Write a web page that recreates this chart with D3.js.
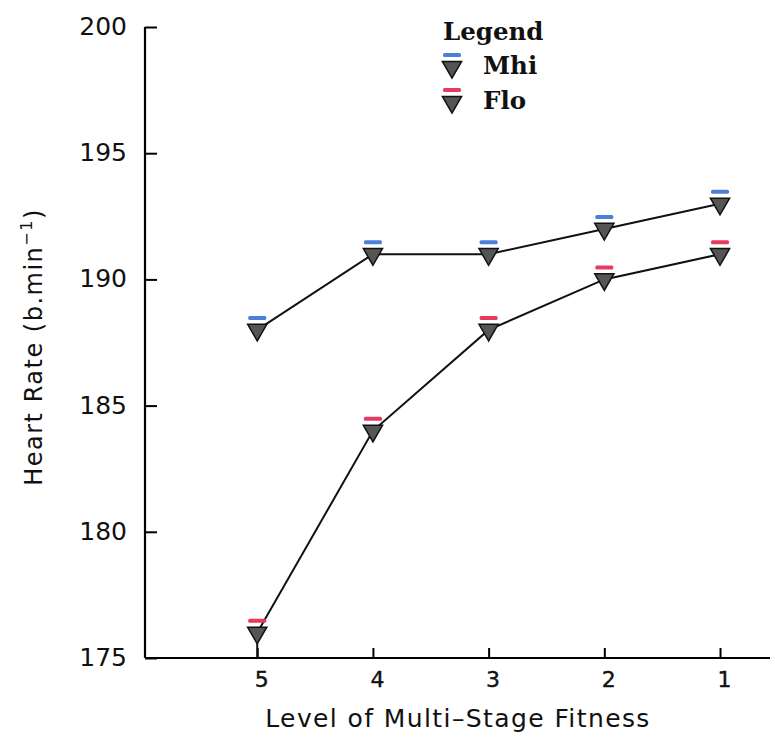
<!DOCTYPE html>
<html>
<head>
<meta charset="utf-8">
<script src="https://cdn.jsdelivr.net/npm/d3@7"></script>
<style>
  body { margin: 0; background: #fff; }
  svg { display: block; }
</style>
</head>
<body>
<script>
// fitness levels, drawn right to left
const levels = [5, 4, 3, 2, 1];
const mhiValues = [188, 191, 191, 192, 193];
const floValues = [176, 184, 188, 190, 191];
const yTicks = [175, 180, 185, 190, 195, 200];
const seriesNames = ["Mhi", "Flo"];
const seriesColors = ["#4b7fd8", "#e63a5e"];

const width = 775;
const height = 740;
const margin = { left: 145, right: 5, top: 27, bottom: 82 };

const svg = d3.select("body").append("svg")
  .attr("width", width)
  .attr("height", height);

const x = d3.scaleLinear()
  .domain([5.97, 0.568])
  .range([margin.left, width - margin.right]);

const y = d3.scaleLinear()
  .domain([175, 200])
  .range([height - margin.bottom, margin.top]);

const axisFont = "'DejaVu Sans', Verdana, sans-serif";

// y axis, ticks pointing inwards
const yAxis = svg.append("g")
  .attr("transform", `translate(${margin.left},0)`)
  .call(d3.axisRight(y).tickValues(yTicks).tickSize(12).tickFormat(d3.format("d")));
yAxis.select(".domain").attr("stroke-width", 2.2).attr("d", `M0,${y(200)}V${y(175)}`);
yAxis.selectAll(".tick line").attr("stroke-width", 2);
yAxis.selectAll(".tick text")
  .attr("x", -18)
  .attr("dy", "0.3em")
  .attr("text-anchor", "end")
  .style("font-family", axisFont)
  .style("font-size", "25px")
  .attr("fill", "#111");

// x axis, ticks pointing up
const xAxis = svg.append("g")
  .attr("transform", `translate(0,${y(175)})`)
  .call(d3.axisTop(x).tickValues(levels).tickSize(10).tickFormat(d3.format("d")));
xAxis.select(".domain").attr("stroke-width", 2.2).attr("d", `M${margin.left},0H${width - margin.right}`);
xAxis.selectAll(".tick line").attr("stroke-width", 2);
xAxis.selectAll(".tick text")
  .attr("x", 4)
  .attr("y", 29)
  .attr("dy", 0)
  .style("font-family", axisFont)
  .style("font-size", "22px")
  .attr("stroke", "#111")
  .attr("stroke-width", 0.4)
  .attr("fill", "#111");

// axis titles
svg.append("text")
  .attr("x", 458)
  .attr("y", 727)
  .attr("text-anchor", "middle")
  .style("font-family", axisFont)
  .style("font-size", "25px")
  .style("letter-spacing", "1.4px")
  .attr("fill", "#111")
  .text("Level of Multi\u2013Stage Fitness");

const yTitle = svg.append("text")
  .attr("transform", "translate(42,347) rotate(-90)")
  .attr("text-anchor", "middle")
  .style("font-family", axisFont)
  .style("font-size", "24px")
  .style("letter-spacing", "1.5px")
  .attr("fill", "#111");
yTitle.append("tspan").text("Heart Rate (b.min");
yTitle.append("tspan").attr("dy", -10).style("font-size", "16px").text("\u22121");
yTitle.append("tspan").attr("dy", 10).text(")");

const series = [mhiValues, floValues];
const tri = d3.symbol().type(d3.symbolTriangle).size(160);

function marker(g, cx, cy, color) {
  g.append("rect")
    .attr("x", cx - 9)
    .attr("y", cy - 14)
    .attr("width", 18)
    .attr("height", 4)
    .attr("rx", 1.5)
    .attr("fill", color);
  g.append("path")
    .attr("d", tri)
    .attr("transform", `translate(${cx},${cy}) rotate(180)`)
    .attr("fill", "#555")
    .attr("stroke", "#111")
    .attr("stroke-width", 1.5);
}

// lowest Flo point has a whisker reaching the axis
svg.append("line")
  .attr("x1", x(levels[0])).attr("x2", x(levels[0]))
  .attr("y1", y(floValues[0])).attr("y2", y(175))
  .attr("stroke", "#111").attr("stroke-width", 2);

const line = d3.line()
  .x((d, i) => x(levels[i]))
  .y(d => y(d));

series.forEach((vals, s) => {
  svg.append("path")
    .datum(vals)
    .attr("d", line)
    .attr("fill", "none")
    .attr("stroke", "#111")
    .attr("stroke-width", 2);
});

series.forEach((vals, s) => {
  const g = svg.append("g");
  vals.forEach((v, i) => marker(g, x(levels[i]), y(v), seriesColors[s]));
});

// legend
const legendFont = "'DejaVu Serif', 'Liberation Serif', serif";
const legend = svg.append("g");
legend.append("text")
  .attr("x", 443).attr("y", 40)
  .style("font-family", legendFont)
  .style("font-size", "24.5px")
  .style("font-weight", "bold")
  .attr("fill", "#111")
  .text("Legend");
seriesNames.forEach((name, s) => {
  const cy = 67 + s * 35;
  marker(legend, 452, cy, seriesColors[s]);
  legend.append("text")
    .attr("x", 483).attr("y", cy + 7)
    .style("font-family", legendFont)
    .style("font-size", "24.5px")
    .style("font-weight", "bold")
    .attr("fill", "#111")
    .text(name);
});
</script>
</body>
</html>
